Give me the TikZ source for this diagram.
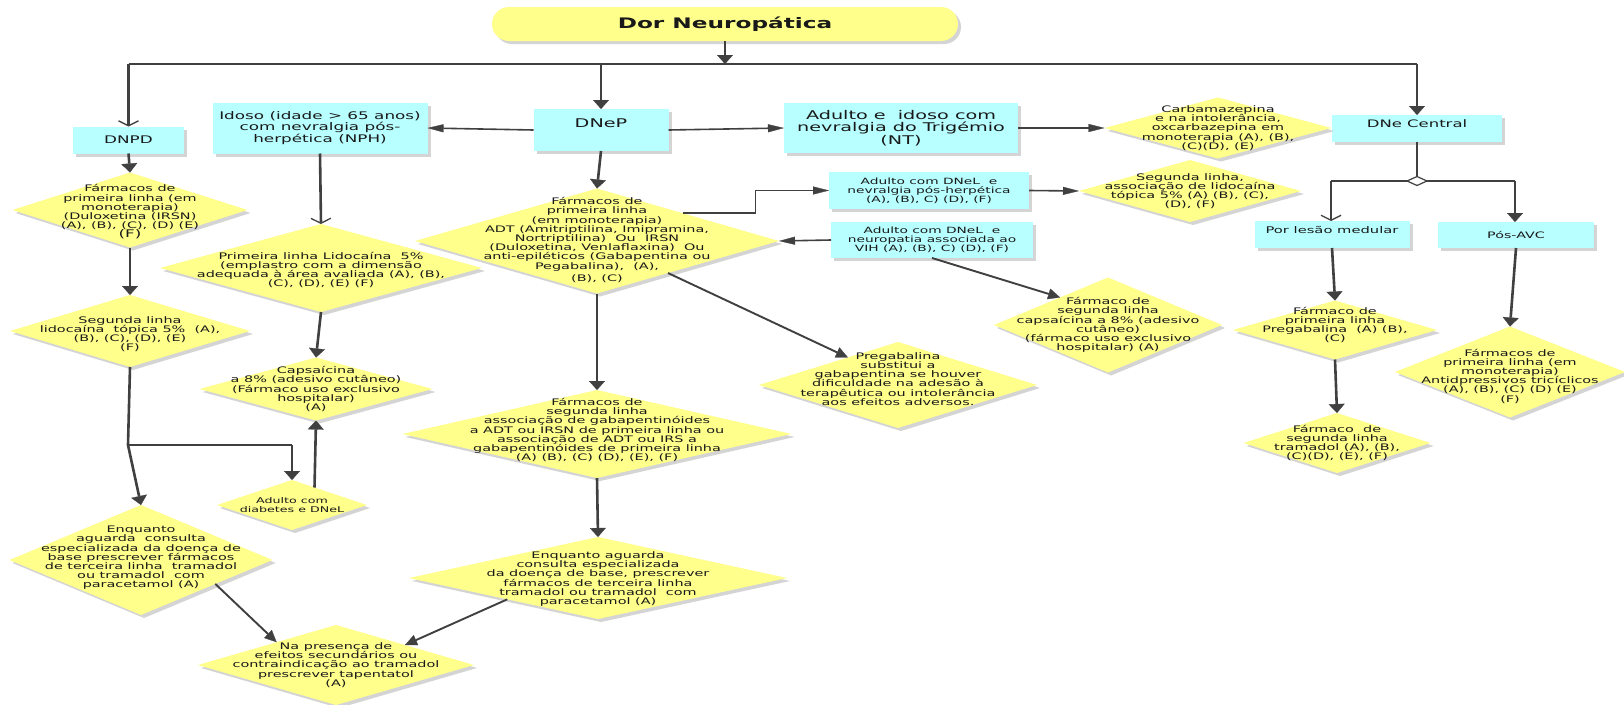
\documentclass[tikz,border=0pt]{standalone}
\usepackage{fontspec}
\setmainfont{DejaVu Sans}[FakeStretch=1.6]
\usetikzlibrary{shapes.geometric,arrows.meta,shadows,calc}
\definecolor{boxc}{RGB}{184,255,255}
\definecolor{yelc}{RGB}{255,255,140}
\definecolor{lc}{RGB}{64,64,64}
\definecolor{txtc}{RGB}{25,25,25}
\definecolor{shc}{RGB}{212,212,212}
\tikzset{
 shad/.style={drop shadow={shadow xshift=3pt,shadow yshift=-3pt,fill=shc,opacity=1}},
 box/.style={rectangle, fill=boxc, inner sep=0pt, outer sep=0pt, shad},
 dia/.style={diamond, fill=yelc, inner sep=0pt, outer sep=0pt, shad},
 btxt/.style={align=center, inner sep=0pt, text=txtc},
 dtxt/.style={align=center, inner sep=0pt, text=txtc, font=\fontsize{9}{9.2}\selectfont},
 vline/.style={draw=lc, line width=2.6pt},
 hline/.style={draw=lc, line width=1.6pt},
 dline/.style={draw=lc, line width=1.9pt},
 varr/.style={vline, -{Triangle[length=9pt,width=16pt,line width=0.3pt]}},
 harr/.style={hline, -{Triangle[length=16pt,width=8pt,line width=0.3pt]}},
 darr/.style={dline, -{Triangle[length=12pt,width=11pt,line width=0.3pt]}},
 oarr/.style={vline, -{Straight Barb[length=5pt,width=20pt,line width=1.3pt]}},
}
% diamond: [extra text style]{name}{x}{y}{w}{h}{yshift}{text}
\newcommand\dnode[8][]{%
 \node[dia, minimum width=#5pt, minimum height=#6pt] (#2) at (#3,#4) {};
 \node[dtxt, #1, yshift=#7pt] (#2t) at (#2.center) {#8};}
% box: {name}{x}{y}{w}{h}{yshift}{fontsize}{baselineskip}{text}
\newcommand\bnode[9]{%
 \node[box, minimum width=#4pt, minimum height=#5pt] (#1) at (#2,#3) {};
 \node[btxt, yshift=#6pt, font=\fontsize{#7}{#8}\selectfont] (#1t) at (#1.center) {#9};}
\begin{document}
\begin{tikzpicture}[x=1pt,y=-1pt]
\useasboundingbox (0,0) rectangle (1624,704);
\fill[white] (0,0) rectangle (1624,704);

% title
\node[fill=yelc, rounded corners=17pt, inner sep=0pt, outer sep=0pt, minimum width=466pt, minimum height=34pt, shad] (title) at (725,24) {};
\node[btxt, font=\fontsize{14.5}{15}\selectfont\bfseries] (titlet) at (title.center) {Dor Neuropática};

% boxes
\bnode{dnpd}{128.5}{140}{111}{27}{0}{10.5}{11}{DNPD}
\bnode{idoso}{320}{128}{215}{51}{0}{10.5}{11.2}{Idoso (idade > 65 anos)\\com nevralgia pós-\\herpética (NPH)}
\bnode{dnep}{601}{130}{135}{42}{7}{12}{12}{DNeP}
\bnode{nt}{901}{128}{234}{50}{0}{12}{12.3}{Adulto e\ \ idoso com\\nevralgia do Trigémio\\(NT)}
\bnode{dnec}{1417}{128.5}{170}{27}{5}{10.3}{10.5}{DNe Central}
\bnode{pos}{929}{190.5}{200}{37}{0}{8.6}{9.2}{Adulto com DNeL\ \ e\\nevralgia pós-herpética\\(A), (B), C) (D), (F)}
\bnode{vih}{932}{240}{202}{36}{0}{8.6}{9.2}{Adulto com DNeL\ \ e\\neuropatia associada ao\\VIH (A), (B), C) (D), (F)}
\bnode{lesao}{1332}{234.5}{155}{27}{5}{9.2}{9.5}{Por lesão medular}
\bnode{avc}{1516}{235}{156}{26}{0}{8.9}{9}{Pós-AVC}

% diamonds
\dnode{d1}{130}{210}{235}{75}{-2}{Fármacos de\\primeira linha (em\\monoterapia)\\(Duloxetina (IRSN)\\(A), (B), (C), (D) (E)\\{\fontsize{10.5}{10.5}\selectfont (F)}}
\dnode{d2}{130}{331}{240}{72}{-3}{Segunda linha\\lidocaína\ \ tópica 5\%\ \ (A),\\(B), (C), (D), (E)\\(F)}
\dnode{lido}{321}{268}{322}{88}{-2}{Primeira linha Lidocaína\ \ 5\%\\(emplastro com a dimensão\\adequada à área avaliada (A), (B),\\(C), (D), (E) (F)}
\dnode{caps}{316}{389}{233}{63}{0}{Capsaícina\\a 8\% (adesivo cutâneo)\\(Fármaco uso exclusivo\\hospitalar)\\(A)}
\dnode[font=\fontsize{7.9}{8.5}\selectfont]{diab}{292}{505}{150}{50}{0}{Adulto com\\diabetes e DNeL}
\dnode{enq1}{141}{560}{263}{110}{2}{Enquanto\\aguarda\ \ consulta\\especializada da doença de\\base prescrever fármacos\\de terceira linha\ \ tramadol\\ou tramadol\ \ com\\paracetamol (A)}
\dnode{napres}{336}{665}{276}{80}{0}{Na presença de\\efeitos secundários ou\\contraindicação ao tramadol\\prescrever tapentatol\\(A)}
\dnode{dnep1}{597}{241}{364}{105}{1}{Fármacos de\\primeira linha\\(em monoterapia)\\ADT (Amitriptilina, Imipramina,\\Nortriptilina)\ \ Ou\ \ IRSN\\(Duloxetina, Venlaflaxina)\ \ Ou\\anti-epiléticos (Gabapentina ou\\Pegabalina),\ \ (A),\\[3pt](B), (C)}
\dnode{dnep2}{597}{434}{389}{88}{4}{Fármacos de\\segunda linha\\associação de gabapentinóides\\a ADT ou IRSN de primeira linha ou\\associação de ADT ou IRS a\\gabapentinóides de primeira linha\\(A) (B), (C) (D), (E), (F)}
\dnode{enq2}{598}{578}{378}{82}{-1}{Enquanto aguarda\\consulta especializada\\da doença de base, prescrever\\fármacos de terceira linha\\tramadol ou tramadol\ \ com\\paracetamol (A)}
\dnode{carb}{1218}{128}{227}{61}{0}{Carbamazepina\\e na intolerância,\\oxcarbazepina em\\monoterapia (A), (B),\\(C)(D), (E)}
\dnode{seg}{1190}{191}{222}{62}{0}{Segunda linha,\\associação de lidocaína\\tópica 5\% (A) (B), (C),\\(D), (F)}
\dnode{caps2}{1108}{325}{228}{95}{0}{Fármaco de\\segunda linha\\capsaícina a 8\% (adesivo\\cutâneo)\\(fármaco uso exclusivo\\hospitalar) (A)}
\dnode{preg}{898}{385}{278}{86}{6}{Pregabalina\\substitui a\\gabapentina se houver\\dificuldade na adesão à\\terapêutica ou intolerância\\aos efeitos adversos.}
\dnode{pregmed}{1335}{330}{204}{59}{5}{Fármaco de\\primeira linha\\Pregabalina\ \ (A) (B),\\(C)}
\dnode{tram}{1337}{443}{187}{60}{0}{Fármaco\ \ de\\segunda linha\\tramadol (A), (B),\\(C)(D), (E), (F)}
\dnode{antid}{1510}{372}{230}{91}{-4}{Fármacos de\\primeira linha (em\\monoterapia)\\Antidpressivos tricíclicos\\(A), (B), (C) (D) (E)\\(F)}

% top distribution
\coordinate (jt) at (725,64);
\draw[varr] (title.south) -- (jt);
\draw[hline] (dnpd.north |- jt) -- (dnec.north |- jt);
\draw[oarr] (dnpd.north |- jt) -- (dnpd.north);
\draw[varr] (dnep.north |- jt) -- (dnep.north);
\draw[varr] (dnec.north |- jt) -- (dnec.north);

% DNeP branches
\draw[harr] (dnep.west) -- (idoso.east);
\draw[harr] (dnep.east) -- (nt.west);
\draw[harr] (nt.east) -- (carb.west);
\draw[varr] (dnep.south) -- (dnep1.north);
\draw[harr] ($(dnep1.east)!0.53!(dnep1.north)$) -- ++(73,0) |- (pos.west);
\draw[harr] (vih.west) -- (dnep1.east);
\draw[harr] (pos.east) -- (seg.west);
\draw[darr] (vih.south) -- ($(caps2.west)!0.58!(caps2.north)$);
\draw[darr] ($(dnep1.east)!0.61!(dnep1.south)$) -- ($(preg.west)!0.64!(preg.north)$);
\draw[varr] (dnep1.south) -- (dnep2.north);
\draw[varr] (dnep2.south) -- (enq2.north);
\draw[darr] ($(enq2.west)!0.52!(enq2.south)$) -- ($(napres.east)!0.5!(napres.north)$);

% DNPD column
\draw[varr] (dnpd.south) -- (d1.north);
\draw[varr] (d1.south) -- (d2.north);
\coordinate (j1) at (128,445);
\draw[vline] (d2.south) -- (j1);
\draw[varr] (j1) -- (enq1.north);
\draw[hline] (j1) -- (j1 -| diab.north);
\draw[varr] (j1 -| diab.north) -- (diab.north);
\draw[darr] ($(enq1.east)!0.435!(enq1.south)$) -- ($(napres.west)!0.57!(napres.north)$);

% NPH column
\draw[oarr] (idoso.south) -- (lido.north);
\draw[varr] (lido.south) -- (caps.north);
\draw[varr] ($(diab.north)!0.3!(diab.east)$) -- (caps.south);

% DNe Central
\node[diamond, draw=lc, fill=white, line width=1.2pt, inner sep=0pt, outer sep=0pt, minimum width=20pt, minimum height=9pt] (jc) at (1417,181) {};
\draw[vline] (dnec.south) -- (jc.north);
\coordinate (jl) at (1331,181);
\coordinate (jr) at (1515,181);
\draw[hline] (jl) -- (jc.west);
\draw[hline] (jc.east) -- (jr);
\draw[oarr] (jl) -- (jl |- lesao.north);
\draw[varr] (jr) -- (jr |- avc.north);
\draw[varr] (lesao.south) -- (pregmed.north);
\draw[varr] (pregmed.south) -- (tram.north);
\draw[varr] (avc.south) -- (antid.north);
\end{tikzpicture}
\end{document}
